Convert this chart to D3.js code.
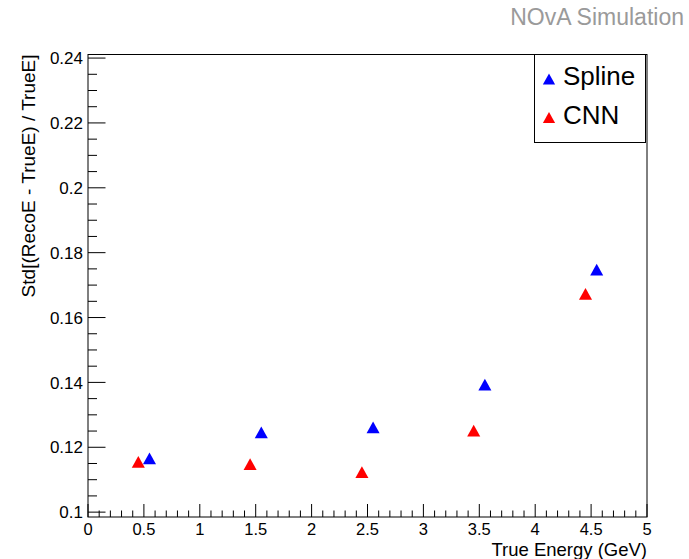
<!DOCTYPE html>
<html>
<head>
<meta charset="utf-8">
<script src="https://cdn.jsdelivr.net/npm/d3@7"></script>
<style>
  body { margin: 0; background: #fff; }
  text { font-family: "Liberation Sans", Arial, Helvetica, sans-serif; }
</style>
</head>
<body>
<svg id="chart"></svg>
<script>
// Data
const splineEnergy = [0.55, 1.55, 2.55, 3.55, 4.55];
const splineStd    = [0.1166, 0.1246, 0.1261, 0.1393, 0.1748];
const cnnEnergy    = [0.45, 1.45, 2.45, 3.45, 4.45];
const cnnStd       = [0.1155, 0.1148, 0.1123, 0.1251, 0.1673];
const xTicks = [0, 0.5, 1, 1.5, 2, 2.5, 3, 3.5, 4, 4.5, 5];
const yTicks = [0.1, 0.12, 0.14, 0.16, 0.18, 0.2, 0.22, 0.24];

const series = [
  {name: "Spline", color: "#0000ff", x: splineEnergy, y: splineStd},
  {name: "CNN", color: "#ff0000", x: cnnEnergy, y: cnnStd}
];

const width = 689, height = 559;
const margin = {top: 54.5, bottom: 42, left: 88, right: 42};

const svg = d3.select("#chart")
  .attr("width", width)
  .attr("height", height);

const xScale = d3.scaleLinear()
  .domain([0, 5])
  .range([margin.left, width - margin.right]);

const yScale = d3.scaleLinear()
  .domain([0.0985, 0.2411])
  .range([height - margin.bottom, margin.top]);

// ROOT style up-triangle, centred on its bounding box
const triangleUp = {
  draw(context, size) {
    const w = Math.sqrt(size), h = w * 0.9;
    context.moveTo(0, -h / 2);
    context.lineTo(w / 2, h / 2);
    context.lineTo(-w / 2, h / 2);
    context.closePath();
  }
};

// frame
svg.append("rect")
  .attr("x", margin.left)
  .attr("y", margin.top)
  .attr("width", width - margin.left - margin.right)
  .attr("height", height - margin.top - margin.bottom)
  .attr("fill", "none")
  .attr("stroke", "#000")
  .attr("stroke-width", 1);

// x axis ticks (drawn inward)
const xMinor = d3.range(0, 5.0001, 0.1);
svg.append("g").selectAll("line")
  .data(xMinor)
  .enter().append("line")
  .attr("x1", d => xScale(d))
  .attr("x2", d => xScale(d))
  .attr("y1", height - margin.bottom)
  .attr("y2", d => height - margin.bottom - (Math.abs(d * 2 - Math.round(d * 2)) < 1e-6 ? 13 : 6.5))
  .attr("stroke", "#000");

svg.append("g").selectAll("text")
  .data(xTicks)
  .enter().append("text")
  .attr("x", d => xScale(d))
  .attr("y", 534.5)
  .attr("text-anchor", "middle")
  .style("font-size", "16.5px")
  .text(d => d);

// y axis ticks (drawn inward)
const yMinor = d3.range(0.1, 0.2401, 0.005);
svg.append("g").selectAll("line")
  .data(yMinor)
  .enter().append("line")
  .attr("x1", margin.left)
  .attr("x2", (d, i) => margin.left + (i % 4 === 0 ? 17.5 : 9))
  .attr("y1", d => yScale(d))
  .attr("y2", d => yScale(d))
  .attr("stroke", "#000");

svg.append("g").selectAll("text")
  .data(yTicks)
  .enter().append("text")
  .attr("x", 83)
  .attr("y", d => yScale(d))
  .attr("dy", "0.36em")
  .attr("text-anchor", "end")
  .style("font-size", "17px")
  .text(d => d);

// axis titles
svg.append("text")
  .attr("x", width - margin.right)
  .attr("y", 556)
  .attr("text-anchor", "end")
  .style("font-size", "18.5px")
  .text("True Energy (GeV)");

svg.append("text")
  .attr("transform", `translate(35,${margin.top}) rotate(-90)`)
  .attr("text-anchor", "end")
  .style("font-size", "19px")
  .text("Std[(RecoE - TrueE) / TrueE]");

svg.append("text")
  .attr("x", 684)
  .attr("y", 25)
  .attr("text-anchor", "end")
  .attr("fill", "#9a9a9a")
  .style("font-size", "23px")
  .text("NOvA Simulation");

// points
const symbol = d3.symbol().type(triangleUp).size(170);
series.forEach(function(s) {
  svg.append("g").selectAll("path")
    .data(s.x.map((x, i) => ({x: x, y: s.y[i]})))
    .enter().append("path")
    .attr("d", symbol)
    .attr("transform", d => `translate(${xScale(d.x)},${yScale(d.y)})`)
    .attr("fill", s.color);
});

// legend
const legend = svg.append("g");
legend.append("rect")
  .attr("x", 534.5)
  .attr("y", margin.top)
  .attr("width", 111)
  .attr("height", 88)
  .attr("fill", "#fff")
  .attr("stroke", "#000");

const legendItem = legend.selectAll(".legend")
  .data(series)
  .enter().append("g")
  .attr("class", "legend")
  .attr("transform", (d, i) => "translate(0," + i * 38.5 + ")");

legendItem.append("path")
  .attr("d", d3.symbol().type(triangleUp).size(150))
  .attr("transform", "translate(549,79)")
  .attr("fill", d => d.color);

legendItem.append("text")
  .attr("x", 563)
  .attr("y", 85)
  .style("font-size", "26px")
  .text(d => d.name);
</script>
</body>
</html>
